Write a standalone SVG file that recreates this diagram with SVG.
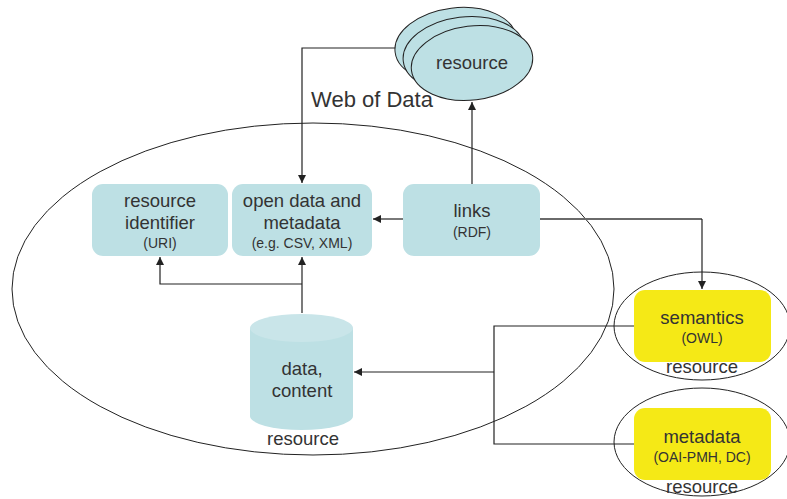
<svg xmlns="http://www.w3.org/2000/svg" width="787" height="499" viewBox="0 0 787 499">
<defs>
<style>
.t{font-family:"Liberation Sans",Arial,sans-serif;fill:#333;text-anchor:middle}
.b{font-size:18.5px}
.s{font-size:14px}
.box{fill:#bde0e4}
.yel{fill:#f5e916}
.ln{fill:none;stroke:#222;stroke-width:1.2}
.lg{fill:none;stroke:#6a6a6a;stroke-width:1.8}
.ring{fill:none;stroke:#222;stroke-width:1}
</style>
<marker id="ah" viewBox="0 0 10 10" refX="10" refY="5" markerWidth="8" markerHeight="8" markerUnits="userSpaceOnUse" orient="auto">
<path d="M0,0 L10,5 L0,10 z" fill="#222"/>
</marker>
</defs>
<rect width="787" height="499" fill="#fff"/>

<g id="web-of-data">
<ellipse class="ring" cx="313" cy="289" rx="301" ry="166"/>
<text class="t" x="372" y="107" font-size="22px">Web of Data</text>
</g>

<g id="connectors">
<path class="ln" d="M398,48 H302 V183" marker-end="url(#ah)"/>
<path class="ln" d="M472,184 V102" marker-end="url(#ah)"/>
<path class="lg" d="M403,219 H373" marker-end="url(#ah)"/>
<path class="lg" d="M540,219 H702"/>
<path class="ln" d="M702,219 V289" marker-end="url(#ah)"/>
<path class="ln" d="M302,313 V257" marker-end="url(#ah)"/>
<path class="ln" d="M302,284 H160 V257" marker-end="url(#ah)"/>
<path class="ln" d="M634,326 H494 V444 H634"/>
<path class="ln" d="M494,372 H354" marker-end="url(#ah)"/>
</g>

<g id="remote-resource">
<g transform="rotate(-7 472 63)">
<ellipse cx="458" cy="43" rx="61" ry="37" fill="#bde0e4" stroke="#222" stroke-width="1"/>
<ellipse cx="465" cy="53" rx="61" ry="37" fill="#bde0e4" stroke="#222" stroke-width="1"/>
<ellipse cx="472" cy="63" rx="61" ry="37" fill="#bde0e4" stroke="#222" stroke-width="1"/>
</g>
<text class="t b" x="472" y="69">resource</text>
</g>

<g id="resource-identifier">
<rect class="box" x="92" y="184" width="136" height="72" rx="11"/>
<text class="t b" x="160" y="207">resource</text>
<text class="t b" x="160" y="229">identifier</text>
<text class="t s" x="160" y="248">(URI)</text>
</g>

<g id="open-data">
<rect class="box" x="232" y="184" width="140" height="72" rx="11"/>
<text class="t b" x="302" y="207">open data and</text>
<text class="t b" x="302" y="229">metadata</text>
<text class="t s" x="302" y="248">(e.g. CSV, XML)</text>
</g>

<g id="links">
<rect class="box" x="403" y="184" width="137" height="72" rx="11"/>
<text class="t b" x="472" y="217">links</text>
<text class="t s" x="472" y="237">(RDF)</text>
</g>

<g id="data-content">
<path d="M250,328 V416 A51.5,14 0 0 0 353,416 V328 z" fill="#bde0e4"/>
<ellipse cx="301.5" cy="328" rx="51.5" ry="14" fill="#c9e5e9"/>
<text class="t b" x="302" y="375">data,</text>
<text class="t b" x="302" y="397">content</text>
<text class="t b" x="303" y="445">resource</text>
</g>

<g id="semantics">
<ellipse class="ring" cx="702" cy="326" rx="88" ry="54"/>
<rect class="yel" x="634" y="290" width="137" height="72" rx="11"/>
<text class="t b" x="702" y="324">semantics</text>
<text class="t s" x="702" y="343">(OWL)</text>
<text class="t b" x="702" y="373">resource</text>
</g>

<g id="metadata">
<ellipse class="ring" cx="702" cy="442" rx="88" ry="54"/>
<rect class="yel" x="634" y="408" width="137" height="72" rx="11"/>
<text class="t b" x="702" y="443">metadata</text>
<text class="t s" x="702" y="462">(OAI-PMH, DC)</text>
<text class="t b" x="702" y="493">resource</text>
</g>
</svg>
